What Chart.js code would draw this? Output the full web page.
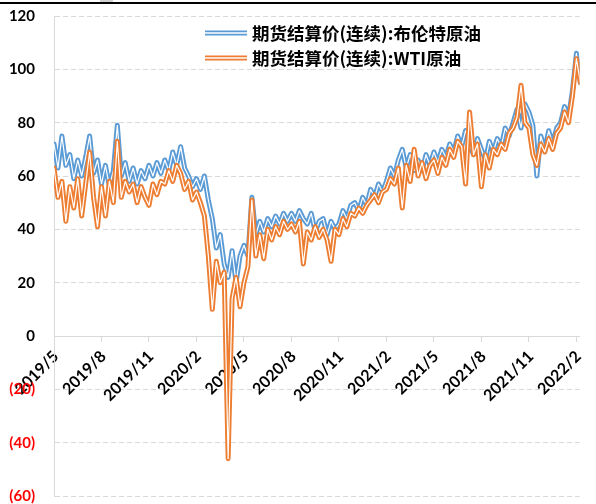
<!DOCTYPE html>
<html>
<head>
<meta charset="utf-8">
<script src="https://cdn.jsdelivr.net/npm/chart.js@4.4.1/dist/chart.umd.min.js"></script>
<style>
  html, body { margin: 0; padding: 0; background: #fff; }
  #wrap { position: relative; width: 596px; height: 504px; overflow: hidden; }
  #topRule { position: absolute; left: 0; top: 2px; width: 596px; height: 2px; background: #000; }
  #topNub { position: absolute; left: 100px; top: 0; width: 13px; height: 2px; background: #d0d0d0; }
</style>
</head>
<body>
<div id="wrap">
  <canvas id="oilChart" width="596" height="504"></canvas>
  <div id="topRule"></div>
  <div id="topNub"></div>
</div>
<script>
// Axis labels, one every three months starting 2019/5
const xLabels = ['2019/5', '2019/8', '2019/11', '2020/2', '2020/5', '2020/8',
  '2020/11', '2021/2', '2021/5', '2021/8', '2021/11', '2022/2'];
const yTicks = [-60, -40, -20, 0, 20, 40, 60, 80, 100, 120];

const seriesNames = ['期货结算价(连续):布伦特原油', '期货结算价(连续):WTI原油'];
const seriesColors = ['#5B9BD5', '#ED7D31'];

// weekly readings (4 per month)
const brentValues = [
  72, 63, 75, 64,  68, 59, 66, 60,  67, 75, 61, 66,  57, 64, 56, 62,
  79, 60, 65, 58,  63, 57, 62, 59,  64, 60, 65, 61,  66, 62, 69, 64,
  71, 63, 60, 56,  59, 55, 60, 51,  44, 33, 38, 27,  22, 32, 20, 30,
  34, 30, 52, 38,  43, 39, 44, 41,  45, 42, 46, 43,  46, 43, 47, 44,
  42, 46, 39, 43,  44, 38, 43, 40,  42, 47, 44, 49,  50, 47, 52, 49,
  55, 52, 57, 54,  58, 63, 60, 66,  70, 63, 68, 62,  66, 62, 68, 64,
  69, 65, 70, 67,  72, 69, 75, 71,  77, 72, 68, 74,  70, 66, 73, 69,
  74, 71, 78, 75,  80, 85, 78, 87,  84, 79, 60, 75,  70, 77, 72, 78,
  80, 86, 82, 92,  106, 95
];
const wtiValues = [
  63, 52, 58, 43,  56, 48, 59, 45,  57, 69, 52, 41,  56, 45, 58, 50,
  73, 52, 58, 54,  57, 50, 56, 52,  49, 57, 53, 58,  57, 62, 58, 64,
  61, 55, 58, 51,  54, 50, 45, 30,  10, 28, 20, 24,  -46, 14, 22, 11,
  20, 26, 51, 30,  38, 29, 40, 36,  41, 38, 43, 40,  42, 39, 43, 27,
  39, 36, 41, 37,  40, 36, 28, 40,  38, 44, 41, 46,  45, 48, 46, 49,
  51, 53, 50, 54,  55, 59, 57, 63,  48, 64, 58, 70,  60, 65, 59, 64,
  66, 61, 67, 64,  70, 67, 73, 71,  57, 84, 68, 72,  56, 68, 63, 70,
  68, 72, 70, 76,  78, 82, 94, 80,  78, 68, 64, 72,  69, 74, 70, 76,
  78, 84, 80, 90,  104, 95
];

// x is measured in months since 2019/5
function toPoints(values) {
  return values.map((v, i) => ({ x: i / 4, y: v }));
}

function lineSet(label, values, color, width, order) {
  return {
    label: label,
    data: toPoints(values),
    borderColor: color,
    borderWidth: width,
    borderJoinStyle: 'round',
    borderCapStyle: 'round',
    pointRadius: 0,
    tension: 0,
    fill: false,
    clip: 0,
    order: order
  };
}

const axisFont = { family: 'Lato, "Liberation Sans", sans-serif', weight: 'bold', size: 15 };

// Excel-style double line legend drawn at the top of the plot
const doubleLineLegend = {
  id: 'doubleLineLegend',
  afterDraw(chart) {
    const ctx = chart.ctx;
    ctx.save();
    ctx.font = 'bold 17.5px "Noto Sans CJK SC", sans-serif';
    ctx.textBaseline = 'middle';
    seriesNames.forEach((name, i) => {
      const y = 33 + i * 25;
      ctx.lineWidth = 5;
      ctx.strokeStyle = seriesColors[i];
      ctx.beginPath(); ctx.moveTo(205, y); ctx.lineTo(247, y); ctx.stroke();
      ctx.lineWidth = 1.3;
      ctx.strokeStyle = '#fff';
      ctx.beginPath(); ctx.moveTo(205, y); ctx.lineTo(247, y); ctx.stroke();
      ctx.fillStyle = '#000';
      ctx.fillText(name, 252, y);
    });
    ctx.restore();
  }
};

const oilChart = new Chart(document.getElementById('oilChart'), {
  type: 'line',
  data: {
    datasets: [
      lineSet(seriesNames[1], wtiValues, '#fff', 1.2, 0),
      lineSet(seriesNames[1], wtiValues, seriesColors[1], 5, 1),
      lineSet(seriesNames[0], brentValues, '#fff', 1.2, 2),
      lineSet(seriesNames[0], brentValues, seriesColors[0], 5, 3)
    ]
  },
  options: {
    responsive: false,
    animation: false,
    layout: { padding: { top: 16, right: 1, bottom: 8, left: 0 } },
    plugins: { legend: { display: false }, tooltip: { enabled: false } },
    scales: {
      x: {
        type: 'linear',
        position: { y: 0 },
        min: 0,
        max: 33.2,
        afterBuildTicks: s => { s.ticks = xLabels.map((_, i) => ({ value: i * 3 })); },
        ticks: {
          autoSkip: false,
          minRotation: 45,
          maxRotation: 45,
          padding: 6,
          labelOffset: 2,
          color: '#000',
          font: { family: axisFont.family, weight: 'bold', size: 16 },
          callback: (v, i) => xLabels[i]
        },
        grid: { drawOnChartArea: false, drawTicks: true, tickLength: 5, color: '#D9D9D9' },
        border: { color: '#D9D9D9', width: 1 }
      },
      y: {
        min: yTicks[0],
        max: yTicks[yTicks.length - 1],
        afterBuildTicks: s => { s.ticks = yTicks.map(v => ({ value: v })); },
        afterFit: s => {
          s.width = 54;
          s.paddingTop = 0;
          s.paddingBottom = 0;
        },
        ticks: {
          padding: 19,
          font: axisFont,
          color: c => c.tick && c.tick.value < 0 ? '#FF0000' : '#000',
          callback: v => v < 0 ? '(' + (-v) + ')' : v
        },
        grid: { color: '#D9D9D9', lineWidth: 1, drawTicks: false, tickLength: 0 },
        border: { color: '#D9D9D9', width: 1, dash: [5, 3] }
      }
    }
  },
  plugins: [doubleLineLegend]
});
</script>
</body>
</html>
